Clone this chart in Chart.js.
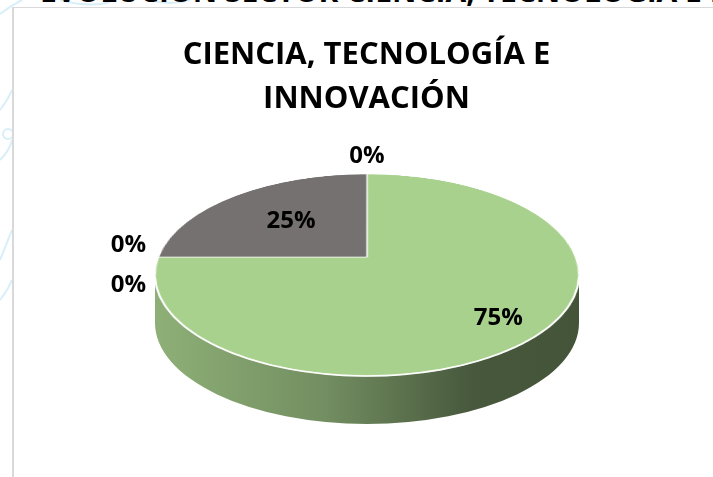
<!DOCTYPE html>
<html>
<head>
<meta charset="utf-8">
<script src="https://cdn.jsdelivr.net/npm/chart.js@4.4.1/dist/chart.umd.min.js"></script>
<style>
    html, body { margin: 0; padding: 0; background: #fff; }
    body { width: 713px; height: 477px; position: relative; overflow: hidden; font-family: "Open Sans", sans-serif; }
    #deco { position: absolute; left: 0; top: 0; }
    #slideTitle { position: absolute; left: 0; top: 0; width: 713px; height: 7px; overflow: hidden; }
    #slideTitle span { position: absolute; left: 40px; top: -24px; font: bold 30px/30px "Open Sans"; white-space: nowrap; color: #000; }
    #frame { position: absolute; left: 12px; top: 7px; width: 760px; height: 520px; border-left: 2px solid #d9d9d9; border-top: 1px solid #d9d9d9; background: #fff; }
    #c { position: absolute; left: 0; top: 0; }
</style>
</head>
<body>
<svg id="deco" width="713" height="477">
    <g fill="none" stroke="#d8eff9" stroke-width="2">
        <path d="M0 14 Q 10 6 22 0"/>
        <path d="M60 0 Q 90 8 110 2"/>
        <path d="M150 0 Q 170 6 190 0"/>
        <path d="M0 110 Q 8 100 12 90"/>
        <path d="M0 160 Q 10 150 12 140"/>
        <circle cx="8" cy="134" r="5"/>
        <path d="M0 260 Q 8 240 12 230"/>
        <path d="M0 300 Q 8 290 12 280"/>
    </g>
</svg>
<div id="slideTitle"><span>EVOLUCIÓN SECTOR CIENCIA, TECNOLOGÍA E INNOVACIÓN</span></div>
<div id="frame"></div>
<canvas id="c" width="713" height="477"></canvas>
<script>
// datos del gráfico
const categorias = ['Cumplido', 'Cumplido parcialmente', 'No cumplido', 'En ejecución', 'Sin iniciar'];
const valores = [3, 0, 0, 1, 0];
const colores = ['#A9D18E', '#5B9BD5', '#FFC000', '#767171', '#ED7D31'];
const titulo = ['CIENCIA, TECNOLOGÍA E', 'INNOVACIÓN'];

// pastel 3D en pantalla: elipse, profundidad y desplazamiento de perspectiva (h)
const PIE = { cx: 367, cy: 275, rx: 212, ry: 101, depth: 48, h: 0.178 };

function shade(hex, f) {
    const n = parseInt(hex.slice(1), 16);
    const r = Math.round(((n >> 16) & 255) * f);
    const g = Math.round(((n >> 8) & 255) * f);
    const b = Math.round((n & 255) * f);
    return `rgb(${r},${g},${b})`;
}

// círculo unitario (u,v) -> pantalla, con perspectiva
function project(u, v) {
    const { cx, cy, rx, ry, h } = PIE;
    const den = 1 - h * v;
    return [cx + rx * Math.sqrt(1 - h * h) * u / den, cy + ry * (v - h) / den];
}
function screenAngle(a) {
    const [x, y] = project(Math.cos(a), Math.sin(a));
    return Math.atan2((y - PIE.cy) / PIE.ry, (x - PIE.cx) / PIE.rx);
}

function sample(src, w, hgt, x, y) {
    const x0 = Math.floor(x), y0 = Math.floor(y);
    const fx = x - x0, fy = y - y0;
    let r = 0, g = 0, b = 0, a = 0;
    const pts = [[x0, y0, (1 - fx) * (1 - fy)], [x0 + 1, y0, fx * (1 - fy)], [x0, y0 + 1, (1 - fx) * fy], [x0 + 1, y0 + 1, fx * fy]];
    for (const [px, py, wt] of pts) {
        if (px < 0 || py < 0 || px >= w || py >= hgt) continue;
        const i = (py * w + px) * 4;
        const al = src[i + 3] * wt;
        r += src[i] * al; g += src[i + 1] * al; b += src[i + 2] * al; a += al;
    }
    return a > 0 ? [r / a, g / a, b / a, a] : [0, 0, 0, 0];
}

//pastel 3D: pared lateral + cara superior deformada
const pie3d = {
    id: 'pie3d',
    afterDatasetsDraw(chart) {
        const ctx = chart.ctx;
        const arcs = chart.getDatasetMeta(0).data;
        const bg = chart.data.datasets[0].backgroundColor;
        const { cx, cy, rx, ry, depth, h } = PIE;
        const a0 = arcs[0];
        const R = a0.outerRadius + 2;

        // cara superior dibujada por Chart.js
        const sx0 = Math.floor(a0.x - R), sy0 = Math.floor(a0.y - R);
        const sw = Math.ceil(2 * R) + 2, sh = Math.ceil(2 * R) + 2;
        const src = ctx.getImageData(sx0, sy0, sw, sh);
        ctx.clearRect(sx0, sy0, sw, sh);

        // pared lateral (mitad delantera)
        arcs.forEach((arc, i) => {
            let t0 = screenAngle(arc.startAngle);
            let t1 = screenAngle(arc.endAngle);
            while (t1 < t0) t1 += 2 * Math.PI;
            if (arc.endAngle - arc.startAngle <= 0) return;
            [-2 * Math.PI, 0, 2 * Math.PI].forEach(off => {
                const s = Math.max(t0 + off, 0), e = Math.min(t1 + off, Math.PI);
                if (e <= s) return;
                const grad = ctx.createLinearGradient(cx - rx, 0, cx + rx, 0);
                grad.addColorStop(0, shade(bg[i], 0.84));
                grad.addColorStop(0.4, shade(bg[i], 0.68));
                grad.addColorStop(0.75, shade(bg[i], 0.42));
                grad.addColorStop(1, shade(bg[i], 0.40));
                ctx.beginPath();
                ctx.ellipse(cx, cy, rx, ry, 0, s, e);
                ctx.ellipse(cx, cy + depth, rx, ry, 0, e, s, true);
                ctx.closePath();
                ctx.fillStyle = grad;
                ctx.fill();
            });
        });

        // deformación en perspectiva de la cara superior
        const ox0 = Math.floor(cx - rx - 3), oy0 = Math.floor(cy - ry - 3);
        const ow = Math.ceil(2 * rx + 6), oh = Math.ceil(2 * ry + 6);
        const off = document.createElement('canvas');
        off.width = ow; off.height = oh;
        const octx = off.getContext('2d');
        const out = octx.createImageData(ow, oh);
        const k = Math.sqrt(1 - h * h);
        const Rr = a0.outerRadius;
        for (let y = 0; y < oh; y++) {
            const Y = (oy0 + y + 0.5 - cy) / ry;
            const den = 1 + h * Y;
            const v = (Y + h) / den;
            for (let x = 0; x < ow; x++) {
                const X = (ox0 + x + 0.5 - cx) / rx;
                const u = X * k / den;
                if (u * u + v * v > 1.06) continue;
                const px = a0.x + u * Rr - sx0 - 0.5;
                const py = a0.y + v * Rr - sy0 - 0.5;
                const c = sample(src.data, sw, sh, px, py);
                const j = (y * ow + x) * 4;
                out.data[j] = c[0]; out.data[j + 1] = c[1]; out.data[j + 2] = c[2]; out.data[j + 3] = c[3];
            }
        }
        octx.putImageData(out, 0, 0);
        ctx.drawImage(off, ox0, oy0);

        // borde blanco entre cara y pared
        ctx.beginPath();
        ctx.ellipse(cx, cy, rx, ry, 0, 0.02, Math.PI - 0.02);
        ctx.strokeStyle = 'rgba(255,255,255,0.9)';
        ctx.lineWidth = 1.6;
        ctx.stroke();

        // etiquetas de datos
        const data = chart.data.datasets[0].data;
        const total = data.reduce((a, b) => a + b, 0);
        ctx.font = 'bold 24px "Open Sans"';
        ctx.fillStyle = '#000';
        ctx.textAlign = 'center';
        ctx.textBaseline = 'middle';

        const zeros = {};
        arcs.forEach((arc, i) => {
            const share = data[i] / total;
            const mid = (arc.startAngle + arc.endAngle) / 2;
            const txt = Math.round(share * 100) + '%';
            if (share > 0) {
                const f = share >= 0.5 ? 0.8 : 0.55;
                const [x, y] = project(f * Math.cos(mid), f * Math.sin(mid));
                ctx.fillText(txt, x, y);
            } else {
                const key = mid.toFixed(3);
                (zeros[key] = zeros[key] || { mid, items: [] }).items.push(txt);
            }
        });

        //etiquetas de 0% fuera del pastel
        Object.values(zeros).forEach(g => {
            const [ex, ey] = project(Math.cos(g.mid), Math.sin(g.mid));
            const x = ex + Math.cos(g.mid) * 30;
            const y = ey + Math.sin(g.mid) * 18 + 8 * Math.abs(Math.cos(g.mid));
            g.items.forEach((t, j) => {
                ctx.fillText(t, x, y + (j - (g.items.length - 1) / 2) * 40);
            });
        });
    }
};

new Chart(document.getElementById('c'), {
    type: 'pie',
    data: {
        labels: categorias,
        datasets: [{
            data: valores,
            backgroundColor: colores,
            borderColor: '#ffffff',
            borderWidth: 1.2,
            clip: false
        }]
    },
    options: {
        responsive: false,
        animation: false,
        devicePixelRatio: 1,
        events: [],
        layout: { padding: { left: 20, top: 0, right: 0, bottom: 0 } },
        plugins: {
            legend: { display: false },
            tooltip: { enabled: false },
            title: {
                display: true,
                text: titulo,
                color: '#000',
                font: { family: 'Open Sans', size: 31, weight: 'bold', lineHeight: 1.42 },
                padding: { top: 33, bottom: 10 }
            }
        }
    },
    plugins: [pie3d]
});
</script>
</body>
</html>
